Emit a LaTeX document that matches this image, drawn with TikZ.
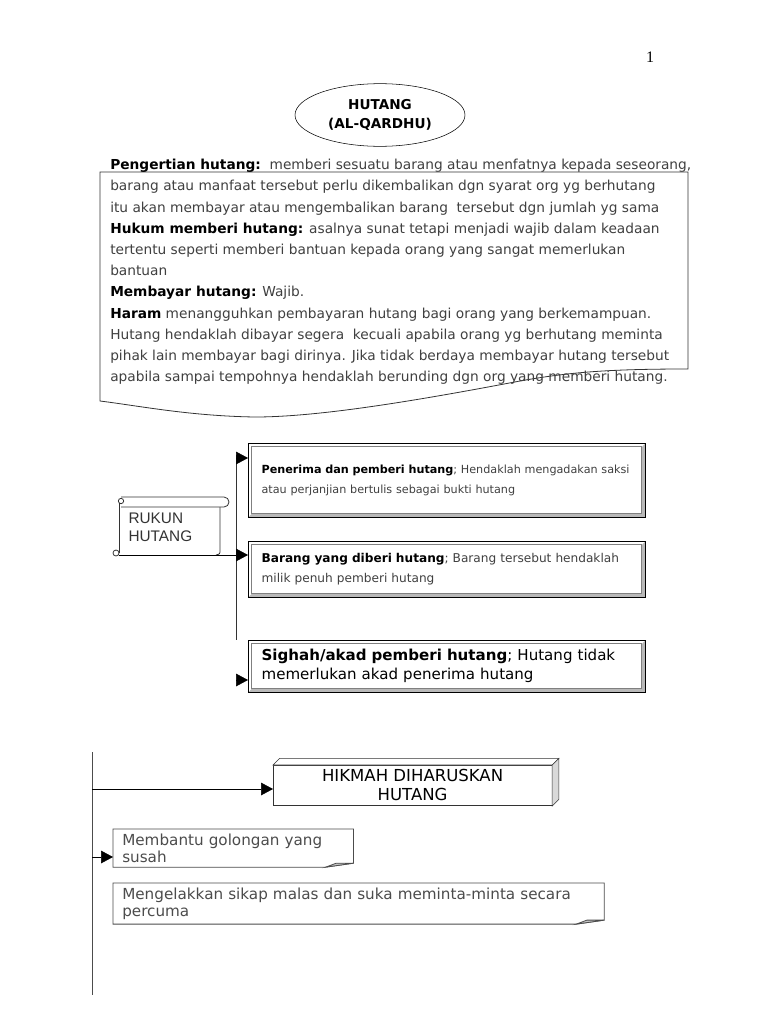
\documentclass[tikz,border=0pt]{standalone}
\usepackage{fontspec}
\setmainfont{DejaVu Sans}
\newfontfamily\arialfont{Liberation Sans}
\newfontfamily\serifpage{Liberation Serif}
\usetikzlibrary{shapes.geometric,arrows.meta,positioning}
\newcommand{\tebal}[1]{{\color{black}\bfseries #1}}
\newcommand{\notaline}[1]{%
  \draw[notaline] (#1.north west) -- (#1.north east) -- ([yshift=3pt]#1.south east)
    -- ([xshift=-21pt]#1.south east) -- (#1.south west) -- cycle;
  \draw[notaline, fill=gray!45] ([xshift=-21pt]#1.south east) -- ([xshift=-13pt,yshift=3pt]#1.south east)
    -- ([yshift=3pt]#1.south east) -- cycle;}

\begin{document}
\begin{tikzpicture}[x=0.75pt, y=-0.75pt,
  tip/.style={-{Triangle[length=9pt,width=9.5pt]}, black},
  docline/.style={draw=black!80, line width=0.6pt},
  doctext/.style={anchor=north west, align=left, inner sep=0pt, text=black!75, font=\fontsize{10.3}{15.9}\selectfont},
  bevelbox/.style={draw=black, fill=white, anchor=north west, minimum width=298pt, text width=278pt,
    inner xsep=10pt, align=left,
    path picture={
      \fill[gray!55] (path picture bounding box.north east) -- (path picture bounding box.south east)
        -- (path picture bounding box.south west) -- ([shift={(3pt,3pt)}]path picture bounding box.south west)
        -- ([shift={(-3pt,3pt)}]path picture bounding box.south east)
        -- ([shift={(-3pt,-3pt)}]path picture bounding box.north east) -- cycle;
      \draw[gray] ([shift={(2pt,3pt)}]path picture bounding box.south west)
        rectangle ([shift={(-3pt,-2pt)}]path picture bounding box.north east);}},
  scrollline/.style={draw=black!80, line width=0.6pt},
  notaline/.style={draw=black!70, line width=0.6pt},
  notabox/.style={anchor=north west, align=left, inner xsep=6.75pt, text=black!70,
    font=\fontsize{11.4}{12.75}\selectfont}]

\useasboundingbox (0,0) rectangle (768,1024);
\fill[white] (0,0) rectangle (768,1024);

% nombor halaman
\node[font=\serifpage\fontsize{12}{14}\selectfont] (halaman) at (650,57) {1};

% tajuk
\node[ellipse, draw, minimum width=127.5pt, minimum height=47pt, align=center,
  font=\bfseries\fontsize{10.2}{14.25}\selectfont] (tajuk) at (380,115) {HUTANG\\(AL-QARDHU)};

% kotak pengertian
\draw[docline] (100,172) -- (688,172) -- (688,369) .. controls (610,369) and (570,372) .. (520,381)
  .. controls (420,400) and (320,417) .. (255,417) .. controls (190,416) and (140,406) .. (100,401) -- cycle;
\node[doctext] (pengertian) at (110,159) {\tebal{Pengertian hutang:}\ \ memberi sesuatu barang atau menfatnya kepada seseorang,\\
barang atau manfaat tersebut perlu dikembalikan dgn syarat org yg berhutang\\
itu akan membayar atau mengembalikan barang\ \ tersebut dgn jumlah yg sama\\
\tebal{Hukum memberi hutang:} asalnya sunat tetapi menjadi wajib dalam keadaan\\
tertentu seperti memberi bantuan kepada orang yang sangat memerlukan\\
bantuan\\
\tebal{Membayar hutang:} Wajib.\\
\tebal{Haram} menangguhkan pembayaran hutang bagi orang yang berkemampuan.\\
Hutang hendaklah dibayar segera\ \ kecuali apabila orang yg berhutang meminta\\
pihak lain membayar bagi dirinya. Jika tidak berdaya membayar hutang tersebut\\
apabila sampai tempohnya hendaklah berunding dgn org yang memberi hutang.};

% rukun hutang
\node[bevelbox, text=black!75, font=\fontsize{8.4}{15}\selectfont, minimum height=55.5pt] (penerima) at (248,443)
  {\tebal{Penerima dan pemberi hutang}; Hendaklah mengadakan saksi\\atau perjanjian bertulis sebagai bukti hutang};
\node[bevelbox, text=black!75, font=\fontsize{9.1}{15}\selectfont, minimum height=42pt] (barang) at (248,541)
  {\tebal{Barang yang diberi hutang}; Barang tersebut hendaklah\\milik penuh pemberi hutang};
\node[bevelbox, font=\fontsize{11.3}{14.25}\selectfont, minimum height=39pt] (sighah) at (248,640)
  {\textbf{Sighah/akad pemberi hutang}; Hutang tidak\\memerlukan akad penerima hutang};

\draw[scrollline] (119,503) -- (119,553);
\draw[scrollline] (220,507) -- (220,550) .. controls (220,554) .. (216,555);
\draw[scrollline, fill=white] (121,497) -- (224,497) arc[start angle=90, end angle=-90, radius=3.75pt] -- (121,507);
\draw[scrollline] (121,501) circle[radius=2pt];
\draw[scrollline] (116,553) circle[radius=2.25pt];
\node[anchor=north west, text width=62pt, inner xsep=7pt, align=left, text=black!80,
  font=\arialfont\fontsize{11.5}{13.5}\selectfont] (rukun) at (119,508) {RUKUN\\HUTANG};

\coordinate (rkbawah) at (119,555);
\coordinate (rkatas) at (236,455);
\coordinate (rkujung) at (236,640);
\coordinate (rk1) at (236,458);
\coordinate (rk3) at (236,680);
\draw[scrollline] (rkatas) -- (rkujung);
\draw[tip] (rk1) -- (rk1 -| penerima.west);
\draw[tip] (rkbawah) -- (rkbawah -| barang.west);
\draw[tip] (rk3) -- (rk3 -| sighah.west);

% hikmah
\coordinate (hkatas) at (92,752);
\coordinate (hkbawah) at (92,995);
\draw[notaline] (hkatas) -- (hkbawah);
\node[anchor=north west, draw=black!80, fill=white, minimum width=209pt, minimum height=28.5pt, align=center,
  font=\fontsize{12.4}{14.25}\selectfont] (hikmah) at (273,765) {HIKMAH DIHARUSKAN\\HUTANG};
\draw[draw=black!80, fill=white] (hikmah.north west) -- ++(5pt,5pt) -- ([shift={(5pt,5pt)}]hikmah.north east) -- (hikmah.north east) -- cycle;
\draw[draw=black!80, fill=gray!30] (hikmah.north east) -- ++(5pt,5pt) -- ([shift={(5pt,5pt)}]hikmah.south east) -- (hikmah.south east) -- cycle;

\node[notabox, minimum width=180pt, text width=166.5pt, minimum height=26.25pt] (bantu) at (113,829)
  {Membantu golongan yang\\susah};
\notaline{bantu}
\node[notabox, minimum width=368pt, text width=354.5pt, minimum height=24.75pt] (elak) at (113,883)
  {Mengelakkan sikap malas dan suka meminta-minta secara\\percuma};
\notaline{elak}

\coordinate (hk1) at (92,789);
\coordinate (hk2) at (92,857);
\draw[tip] (hk1) -- (hk1 -| hikmah.west);
\draw[tip] (hk2) -- (hk2 -| bantu.west);
\end{tikzpicture}
\end{document}
